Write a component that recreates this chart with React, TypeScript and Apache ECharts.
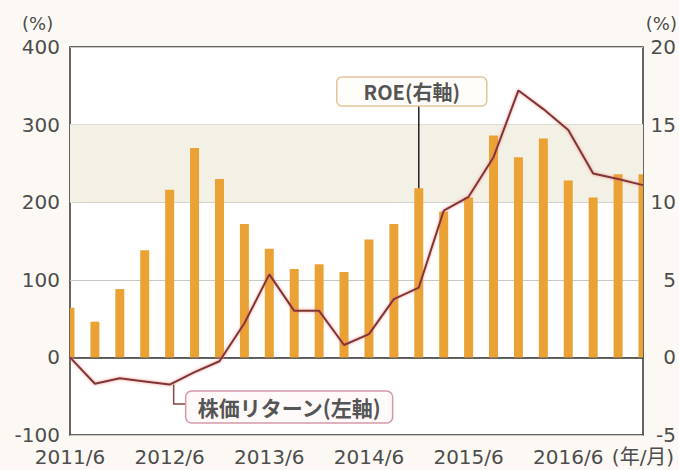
import React, { useEffect, useRef } from "react";
import * as echarts from "echarts";

const categories = [
  "2011/6", "2011/9", "2011/12", "2012/3",
  "2012/6", "2012/9", "2012/12", "2013/3",
  "2013/6", "2013/9", "2013/12", "2014/3",
  "2014/6", "2014/9", "2014/12", "2015/3",
  "2015/6", "2015/9", "2015/12", "2016/3",
  "2016/6", "2016/9", "2016/12", "2017/3",
];

// ROE (%), right axis, bars
const roe = [
  3.2, 2.3, 4.4, 6.9, 10.8, 13.5, 11.5, 8.6,
  7.0, 5.7, 6.0, 5.5, 7.6, 8.6, 10.9, 9.4,
  10.3, 14.3, 12.9, 14.1, 11.4, 10.3, 11.8, 11.8,
];

// Stock return (%), left axis, line
const stockReturn = [
  0, -34, -27, -31, -35, -19, -5, 44,
  107, 60, 60, 16, 30, 75, 90, 189,
  207, 258, 344, 320, 293, 237, 230, 222,
];

const leftTicks = { min: -100, max: 400, interval: 100 };
const rightTicks = { min: -5, max: 20, interval: 5 };
const unitLabel = "(%)";
const xUnitLabel = "(年/月)";
const roeLabel = "ROE(右軸)";
const returnLabel = "株価リターン(左軸)";

const FONT = "'DejaVu Sans', 'Noto Sans CJK JP', sans-serif";
const CJK = "'Noto Sans CJK JP', sans-serif";

export default function App() {
  const ref = useRef<HTMLDivElement>(null);
  useEffect(() => {
    if (!ref.current) return;
    const chart = echarts.init(ref.current, undefined, { renderer: "svg" });
    const labelColor = "#4d4d4d";
    const barColor = "#eba235";
    const option: any = {
      animation: false,
      backgroundColor: "#fcf9f4",
      grid: {
        left: 70,
        right: 36,
        top: 47,
        bottom: 35,
        show: true,
        backgroundColor: "#ffffff",
        borderColor: "#333333",
        borderWidth: 1.5,
      },
      xAxis: [
        {
          type: "category",
          data: categories,
          boundaryGap: false,
          position: "bottom",
          axisLine: { onZero: false, show: false },
          axisTick: { show: false },
          axisLabel: {
            interval: 0,
            margin: 12,
            fontSize: 20,
            fontFamily: FONT,
            color: labelColor,
            formatter: (v: string, i: number) =>
              i === categories.length - 1 ? xUnitLabel : i % 4 === 0 ? v : "",
          },
          splitLine: { show: false },
        },
        {
          type: "category",
          data: categories,
          boundaryGap: false,
          position: "bottom",
          axisLine: {
            show: true,
            onZero: true,
            onZeroAxisIndex: 0,
            lineStyle: { color: "#333333", width: 1.5 },
          },
          axisTick: {
            show: true,
            inside: true,
            length: 6,
            interval: (i: number) => i % 4 === 0 && i > 0 && i < categories.length - 1,
            lineStyle: { color: "#333333", width: 2 },
          },
          axisLabel: { show: false },
          splitLine: { show: false },
        },
      ],
      yAxis: [
        {
          type: "value",
          ...leftTicks,
          position: "left",
          axisLine: { show: false },
          axisTick: { show: false },
          axisLabel: { margin: 10, fontSize: 20, fontFamily: FONT, color: labelColor },
          splitLine: { show: true, lineStyle: { color: "#c9c9c4", width: 1 } },
        },
        {
          type: "value",
          ...rightTicks,
          position: "right",
          axisLine: { show: false },
          axisTick: { show: false },
          axisLabel: {
            margin: 33,
            align: "right",
            fontSize: 20,
            fontFamily: FONT,
            color: labelColor,
          },
          splitLine: { show: false },
        },
      ],
      series: [
        {
          type: "custom",
          name: "ROE",
          data: roe.map((v, i) => [i, v]),
          xAxisIndex: 0,
          yAxisIndex: 1,
          encode: { x: 0, y: 1 },
          z: 2,
          renderItem: (params: any, api: any) => {
            const idx = api.value(0);
            const top = api.coord([idx, api.value(1)]);
            const base = api.coord([idx, 0]);
            const w = 9;
            const cs = params.coordSys;
            const rect = echarts.graphic.clipRectByRect(
              { x: top[0] - w / 2, y: top[1], width: w, height: base[1] - top[1] },
              { x: cs.x, y: cs.y, width: cs.width, height: cs.height }
            );
            if (!rect) return null;
            return { type: "rect", shape: rect, style: { fill: barColor } };
          },
        },
        {
          type: "line",
          name: "株価リターン",
          data: stockReturn,
          xAxisIndex: 0,
          yAxisIndex: 0,
          symbol: "none",
          lineStyle: {
            color: "#7e3434",
            width: 2,
            shadowColor: "rgba(235,120,110,0.8)",
            shadowBlur: 3,
          },
          z: 3,
          markArea: {
            silent: true,
            itemStyle: { color: "#f3f0e5" },
            data: [[{ yAxis: 200 }, { yAxis: 300 }]],
            z: 0,
          },
        },
      ],
    };
    chart.setOption(option);

    const barTop = chart.convertToPixel({ xAxisIndex: 0, yAxisIndex: 1 }, [14, roe[14]]) as number[];
    const linePt = chart.convertToPixel({ xAxisIndex: 0, yAxisIndex: 0 }, [4, stockReturn[4]]) as number[];

    const roeBox = { x: barTop[0] - 82, y: 77, w: 150, h: 29 };
    const retBox = { x: linePt[0] + 16, y: 391, w: 207, h: 32 };

    chart.setOption({
      graphic: [
        {
          type: "text",
          left: 22,
          top: 14,
          style: { text: unitLabel, fontSize: 18, fontFamily: FONT, fill: labelColor },
        },
        {
          type: "text",
          right: 2,
          top: 14,
          style: { text: unitLabel, fontSize: 18, fontFamily: FONT, fill: labelColor },
        },
        {
          type: "line",
          shape: { x1: barTop[0], y1: roeBox.y + roeBox.h, x2: barTop[0], y2: barTop[1] },
          style: { stroke: "#222222", lineWidth: 1.5 },
          z: 10,
        },
        {
          type: "rect",
          shape: { x: roeBox.x, y: roeBox.y, width: roeBox.w, height: roeBox.h, r: 5 },
          style: { fill: "#fffdf9", stroke: "#e2c59c", lineWidth: 1.5 },
          z: 10,
        },
        {
          type: "text",
          x: roeBox.x + roeBox.w / 2,
          y: roeBox.y + roeBox.h / 2,
          style: {
            text: roeLabel,
            fontSize: 20,
            fontWeight: "bold",
            fontFamily: CJK,
            fill: "#555555",
            align: "center",
            verticalAlign: "middle",
          },
          z: 11,
        },
        {
          type: "polyline",
          shape: {
            points: [
              [linePt[0] + 4, linePt[1]],
              [linePt[0] + 4, retBox.y + 13],
              [retBox.x, retBox.y + 13],
            ],
          },
          style: { stroke: "#8a4444", lineWidth: 1.5, fill: "none" },
          z: 10,
        },
        {
          type: "rect",
          shape: { x: retBox.x, y: retBox.y, width: retBox.w, height: retBox.h, r: 6 },
          style: { fill: "#fffafa", stroke: "#d49aa8", lineWidth: 1.5 },
          z: 10,
        },
        {
          type: "text",
          x: retBox.x + retBox.w / 2,
          y: retBox.y + retBox.h / 2,
          style: {
            text: returnLabel,
            fontSize: 21,
            fontWeight: "bold",
            fontFamily: CJK,
            fill: "#555555",
            align: "center",
            verticalAlign: "middle",
          },
          z: 11,
        },
      ],
    });

    return () => chart.dispose();
  }, []);
  return (
    <div
      ref={ref}
      style={{ position: "fixed", left: 0, top: 0, width: 679, height: 470 }}
    />
  );
}
